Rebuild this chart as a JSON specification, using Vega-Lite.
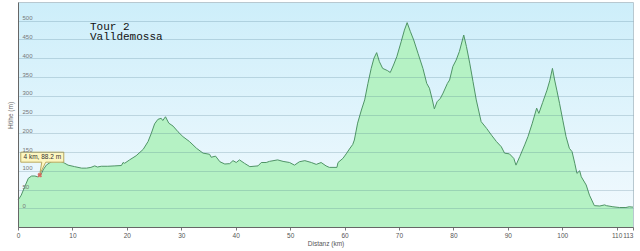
{
  "$schema": "https://vega.github.io/schema/vega-lite/v6.json",
  "width": 615,
  "height": 225,
  "autosize": {"type": "none"},
  "padding": {"left": 18, "top": 2, "right": 7, "bottom": 24},
  "background": "white",
  "title": {
    "text": ["Tour 2", "Valldemossa"],
    "anchor": "start",
    "frame": "group",
    "font": "Liberation Mono",
    "fontSize": 11,
    "fontWeight": "normal",
    "color": "#111111",
    "lineHeight": 10.5,
    "baseline": "top",
    "offset": 0,
    "dx": 72,
    "dy": 40
  },
  "config": {
    "view": {
      "fill": {
        "gradient": "linear",
        "x1": 0, "y1": 0, "x2": 0, "y2": 1,
        "stops": [
          {"offset": 0, "color": "#cdeefa"},
          {"offset": 1, "color": "#f3fafe"}
        ]
      },
      "stroke": "#b8c8d0"
    }
  },
  "datasets": {
    "profile": [
      {"km": 0, "elev": 22}, {"km": 0.3, "elev": 28}, {"km": 0.6, "elev": 35}, {"km": 1.2, "elev": 56},
      {"km": 1.9, "elev": 80}, {"km": 2.5, "elev": 86}, {"km": 3.1, "elev": 86}, {"km": 3.6, "elev": 84},
      {"km": 4.0, "elev": 88.2}, {"km": 4.3, "elev": 92}, {"km": 4.6, "elev": 102}, {"km": 5.2, "elev": 115},
      {"km": 6.1, "elev": 124}, {"km": 7.4, "elev": 126}, {"km": 8.0, "elev": 124}, {"km": 8.6, "elev": 120},
      {"km": 9.2, "elev": 115}, {"km": 10.4, "elev": 111}, {"km": 11.7, "elev": 107}, {"km": 12.6, "elev": 107},
      {"km": 13.4, "elev": 109}, {"km": 14.1, "elev": 113}, {"km": 14.6, "elev": 110}, {"km": 15.3, "elev": 112},
      {"km": 16.5, "elev": 112}, {"km": 17.8, "elev": 113}, {"km": 19.0, "elev": 114}, {"km": 19.3, "elev": 122},
      {"km": 19.6, "elev": 120}, {"km": 20.5, "elev": 129}, {"km": 21.7, "elev": 140}, {"km": 23.0, "elev": 157},
      {"km": 23.9, "elev": 178}, {"km": 24.5, "elev": 200}, {"km": 25.1, "elev": 225}, {"km": 25.7, "elev": 237},
      {"km": 26.3, "elev": 240}, {"km": 26.6, "elev": 234}, {"km": 27.1, "elev": 244}, {"km": 27.7, "elev": 227},
      {"km": 28.5, "elev": 219}, {"km": 29.4, "elev": 204}, {"km": 30.3, "elev": 191}, {"km": 31.5, "elev": 178},
      {"km": 32.8, "elev": 160}, {"km": 34.0, "elev": 147}, {"km": 35.2, "elev": 144}, {"km": 35.5, "elev": 136},
      {"km": 36.3, "elev": 139}, {"km": 37.1, "elev": 124}, {"km": 38.0, "elev": 118}, {"km": 38.9, "elev": 119},
      {"km": 39.5, "elev": 127}, {"km": 40.1, "elev": 122}, {"km": 40.7, "elev": 129}, {"km": 41.6, "elev": 120},
      {"km": 42.6, "elev": 111}, {"km": 44.1, "elev": 113}, {"km": 44.7, "elev": 122}, {"km": 45.6, "elev": 122},
      {"km": 46.2, "elev": 125}, {"km": 47.7, "elev": 129}, {"km": 48.7, "elev": 125}, {"km": 49.9, "elev": 122},
      {"km": 50.8, "elev": 115}, {"km": 51.7, "elev": 124}, {"km": 52.7, "elev": 127}, {"km": 53.9, "elev": 122},
      {"km": 54.8, "elev": 117}, {"km": 55.7, "elev": 122}, {"km": 56.6, "elev": 113}, {"km": 57.2, "elev": 109},
      {"km": 58.6, "elev": 109}, {"km": 58.8, "elev": 122}, {"km": 59.7, "elev": 133}, {"km": 60.3, "elev": 145},
      {"km": 60.9, "elev": 158}, {"km": 61.5, "elev": 170}, {"km": 61.8, "elev": 182}, {"km": 62.4, "elev": 227},
      {"km": 63.1, "elev": 262}, {"km": 63.7, "elev": 289}, {"km": 64.3, "elev": 333}, {"km": 64.9, "elev": 373},
      {"km": 65.4, "elev": 400}, {"km": 65.9, "elev": 415}, {"km": 66.4, "elev": 391}, {"km": 67.0, "elev": 373},
      {"km": 67.9, "elev": 367}, {"km": 68.4, "elev": 362}, {"km": 69.0, "elev": 382}, {"km": 69.6, "elev": 404},
      {"km": 70.4, "elev": 444}, {"km": 71.0, "elev": 475}, {"km": 71.5, "elev": 495}, {"km": 72.1, "elev": 471},
      {"km": 72.7, "elev": 449}, {"km": 73.5, "elev": 413}, {"km": 74.4, "elev": 373}, {"km": 75.1, "elev": 333},
      {"km": 75.6, "elev": 320}, {"km": 76.1, "elev": 291}, {"km": 76.5, "elev": 265}, {"km": 77.0, "elev": 284},
      {"km": 77.6, "elev": 293}, {"km": 78.1, "elev": 307}, {"km": 78.9, "elev": 333}, {"km": 79.3, "elev": 342},
      {"km": 79.9, "elev": 378}, {"km": 80.5, "elev": 395}, {"km": 81.1, "elev": 418}, {"km": 81.9, "elev": 462},
      {"km": 82.4, "elev": 431}, {"km": 83.0, "elev": 387}, {"km": 83.6, "elev": 338}, {"km": 84.2, "elev": 289},
      {"km": 85.1, "elev": 231}, {"km": 86.1, "elev": 213}, {"km": 87.0, "elev": 195}, {"km": 87.9, "elev": 178},
      {"km": 88.8, "elev": 164}, {"km": 89.4, "elev": 147}, {"km": 90.3, "elev": 145}, {"km": 91.1, "elev": 133},
      {"km": 91.5, "elev": 115}, {"km": 92.2, "elev": 138}, {"km": 93.1, "elev": 169}, {"km": 93.7, "elev": 191},
      {"km": 94.5, "elev": 227}, {"km": 95.3, "elev": 267}, {"km": 95.7, "elev": 253}, {"km": 96.4, "elev": 282},
      {"km": 97.2, "elev": 315}, {"km": 97.7, "elev": 340}, {"km": 98.2, "elev": 373}, {"km": 98.6, "elev": 342},
      {"km": 99.0, "elev": 315}, {"km": 99.5, "elev": 280}, {"km": 100.1, "elev": 235}, {"km": 100.7, "elev": 191},
      {"km": 101.3, "elev": 160}, {"km": 101.8, "elev": 151}, {"km": 102.3, "elev": 120}, {"km": 102.7, "elev": 93},
      {"km": 103.2, "elev": 100}, {"km": 103.5, "elev": 84}, {"km": 104.4, "elev": 62}, {"km": 105.0, "elev": 35},
      {"km": 105.9, "elev": 7}, {"km": 106.9, "elev": 6}, {"km": 107.8, "elev": 9}, {"km": 108.1, "elev": 7},
      {"km": 109.3, "elev": 4}, {"km": 110.5, "elev": 2}, {"km": 111.7, "elev": 2}, {"km": 112.3, "elev": 4},
      {"km": 113, "elev": 3}
    ],
    "marker": [{"km": 4, "elev": 88.2, "label": "4 km, 88.2 m"}]
  },
  "layer": [
    {
      "data": {"name": "profile"},
      "mark": {
        "type": "area",
        "interpolate": "linear",
        "fill": "#b5f2c4",
        "fillOpacity": 1,
        "line": {"color": "#4f9466", "strokeWidth": 1}
      },
      "encoding": {
        "x": {
          "field": "km",
          "type": "quantitative",
          "scale": {"domain": [0, 113], "nice": false, "zero": false},
          "axis": {
            "values": [0, 10, 20, 30, 40, 50, 60, 70, 80, 90, 100, 110, 113],
            "tickCount": 13,
            "grid": false,
            "title": "Distanz (km)",
            "titleFont": "Liberation Sans",
            "titleFontSize": 6.5,
            "titleFontWeight": "normal",
            "titleColor": "#555555",
            "titlePadding": 2,
            "labelFont": "Liberation Sans",
            "labelFontSize": 6.5,
            "labelColor": "#555555",
            "labelPadding": 2,
            "labelFlush": false,
            "labelOverlap": false,
            "labelAlign": {"condition": {"test": "datum.value >= 113", "value": "right"}, "value": "center"},
            "tickSize": 3,
            "tickColor": "#777777",
            "domainColor": "#666666",
            "zindex": 1
          }
        },
        "y": {
          "field": "elev",
          "type": "quantitative",
          "scale": {"domain": [-50, 550], "nice": false, "zero": false},
          "axis": {
            "values": [0, 50, 100, 150, 200, 250, 300, 350, 400, 450, 500],
            "tickCount": 11,
            "grid": true,
            "gridColor": "#3a6a80",
            "gridOpacity": 0.22,
            "ticks": false,
            "tickSize": 0,
            "labelAlign": "left",
            "labelBaseline": "bottom",
            "labelPadding": -4,
            "labelFont": "Liberation Sans",
            "labelFontSize": 6,
            "labelColor": "#777777",
            "labelFlush": false,
            "labelOverlap": false,
            "domainColor": "#666666",
            "title": "Höhe (m)",
            "titleFont": "Liberation Sans",
            "titleFontSize": 6.5,
            "titleFontWeight": "normal",
            "titleColor": "#666666",
            "titleX": -5,
            "titleY": 113,
            "zindex": 1
          }
        },
        "y2": {"datum": -50}
      }
    },
    {
      "data": {"name": "marker"},
      "mark": {
        "type": "point",
        "shape": "M-19,-23H24V-13H6L0,-1L2,-13H-19Z",
        "size": 4,
        "filled": true,
        "fill": "#fdf6c0",
        "stroke": "#b8a860",
        "strokeWidth": 1,
        "opacity": 1
      },
      "encoding": {
        "x": {"field": "km", "type": "quantitative"},
        "y": {"field": "elev", "type": "quantitative"}
      }
    },
    {
      "data": {"name": "marker"},
      "mark": {
        "type": "point",
        "shape": "cross",
        "angle": 45,
        "size": 22,
        "filled": true,
        "color": "#d9605a",
        "opacity": 0.9
      },
      "encoding": {
        "x": {"field": "km", "type": "quantitative"},
        "y": {"field": "elev", "type": "quantitative"}
      }
    },
    {
      "data": {"name": "marker"},
      "mark": {
        "type": "text",
        "font": "Liberation Sans",
        "fontSize": 6.5,
        "color": "#333333",
        "align": "center",
        "baseline": "middle",
        "dx": 2.5,
        "dy": -18
      },
      "encoding": {
        "x": {"field": "km", "type": "quantitative"},
        "y": {"field": "elev", "type": "quantitative"},
        "text": {"field": "label"}
      }
    }
  ]
}
